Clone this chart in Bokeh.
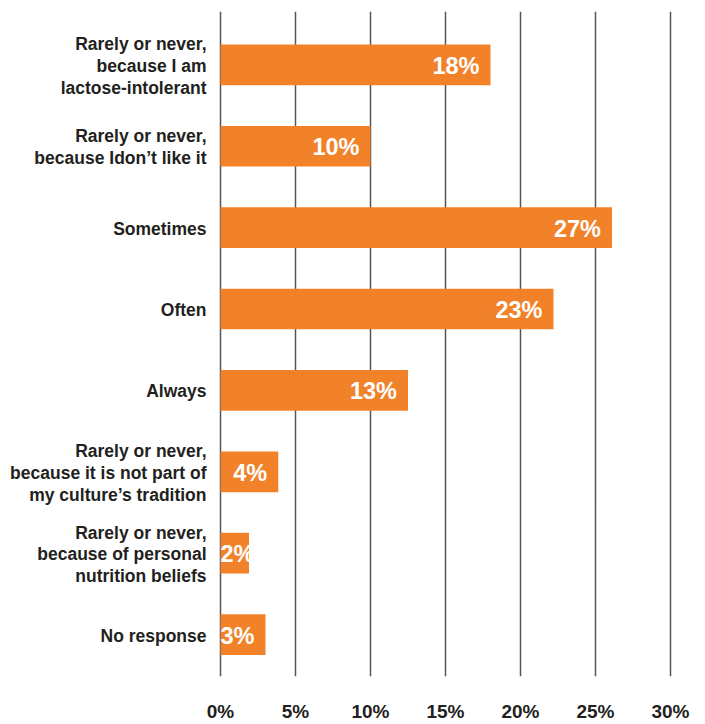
import numpy as np
from bokeh.plotting import figure
from bokeh.models import ColumnDataSource, Range1d, FixedTicker
from bokeh.core.properties import value
from bokeh.embed import file_html
from bokeh.resources import INLINE

# ---- data ----
categories = [
    "Rarely or never,\nbecause I am\nlactose-intolerant",
    "Rarely or never,\nbecause Idon\u2019t like it",
    "Sometimes",
    "Often",
    "Always",
    "Rarely or never,\nbecause it is not part of\nmy culture\u2019s tradition",
    "Rarely or never,\nbecause of personal\nnutrition beliefs",
    "No response",
]
values = [18.0, 10.0, 26.1, 22.2, 12.5, 3.85, 1.9, 3.0]
value_labels = ["18%", "10%", "27%", "23%", "13%", "4%", "2%", "3%"]
tick_values = [0, 5, 10, 15, 20, 25, 30]
tick_labels = ["0%", "5%", "10%", "15%", "20%", "25%", "30%"]

# ---- style ----
W, H = 705, 724
FONT = "Liberation Sans"
BAR = "#F2822A"
TXT = "#231F20"
PX_PER_UNIT = 15.0          # horizontal scale: pixels per percent
ZERO_PX = 220.0             # pixel of 0%
TOP, BOTTOM = 11, 46        # frame borders
ROW_PX = 81.64              # pixels per category row
LINE_PX = 21.7              # line spacing of category labels

n = len(categories)
idx = np.arange(n)
frame_h = H - TOP - BOTTOM
top_pad = 53.5 / ROW_PX
y_span = frame_h / ROW_PX

p = figure(width=W, height=H, output_backend="svg", toolbar_location=None,
           x_range=Range1d(-ZERO_PX / PX_PER_UNIT, (W - ZERO_PX) / PX_PER_UNIT),
           y_range=Range1d(y_span - top_pad, -top_pad),
           min_border_left=0, min_border_right=0,
           min_border_top=TOP, min_border_bottom=BOTTOM)
p.outline_line_color = None
p.background_fill_color = "white"
p.border_fill_color = "white"

# grid
p.xgrid.ticker = FixedTicker(ticks=tick_values)
p.xgrid.grid_line_color = "#555555"
p.xgrid.grid_line_width = 1.5
p.ygrid.grid_line_color = None

# axes
p.yaxis.visible = False
xa = p.xaxis[0]
xa.ticker = FixedTicker(ticks=tick_values)
xa.major_label_overrides = {t: l for t, l in zip(tick_values, tick_labels)}
xa.axis_line_color = None
xa.major_tick_line_color = None
xa.minor_tick_line_color = None
xa.major_tick_in = 0
xa.major_tick_out = 0
xa.major_label_standoff = 24
xa.major_label_text_font = FONT
xa.major_label_text_font_style = "bold"
xa.major_label_text_font_size = "19px"
xa.major_label_text_color = TXT

# bars
src = ColumnDataSource(dict(y=idx, right=values, lab=value_labels,
                            lx=np.maximum(np.array(values), 3.0)))
p.hbar(y="y", left=0, right="right", height=0.5, source=src,
       fill_color=BAR, line_color=None)

p.text(x="lx", y="y", text="lab", source=src, x_offset=-11, y_offset=1,
       text_align="right", text_baseline="middle",
       text_font=value(FONT), text_font_style="bold",
       text_font_size="23.5px", text_color="white")

# category labels (one text per line)
cx, cy, ct, co = [], [], [], []
for i, c in enumerate(categories):
    lines = c.split("\n")
    k = len(lines)
    for j, ln in enumerate(lines):
        cx.append(-14 / PX_PER_UNIT)
        cy.append(i)
        ct.append(ln)
        co.append((j - (k - 1) / 2) * LINE_PX + 1)
csrc = ColumnDataSource(dict(x=cx, y=cy, t=ct, o=co))
p.text(x="x", y="y", text="t", y_offset="o", source=csrc,
       text_align="right", text_baseline="middle",
       text_font=value(FONT), text_font_style="bold",
       text_font_size="17.5px", text_color=TXT)

open("out.html", "w").write(file_html(p, INLINE))
